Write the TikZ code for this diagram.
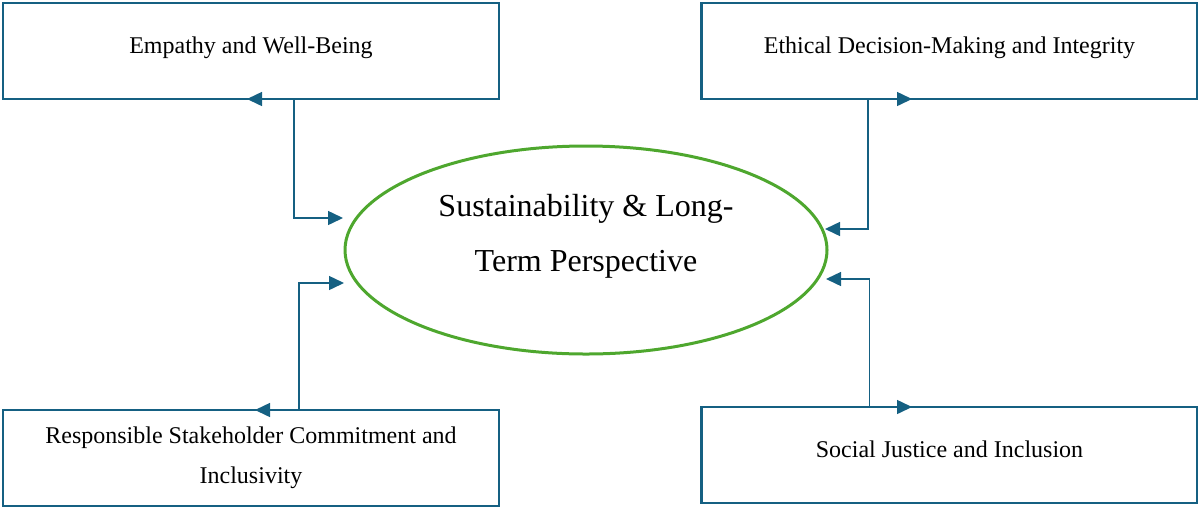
\documentclass[tikz,border=0pt]{standalone}
\usepackage{fontspec}
\setmainfont{Liberation Serif}
\usetikzlibrary{shapes,arrows.meta,calc}
\definecolor{boxblue}{HTML}{156082}
\definecolor{leafgreen}{HTML}{4EA72E}

\begin{document}
\begin{tikzpicture}[x=1pt,y=-1pt,
  box/.style={draw=boxblue,line width=2.5pt,rectangle,minimum width=496pt,minimum height=96pt,inner sep=0pt,outer sep=0pt,align=center,font=\fontsize{24}{40}\selectfont},
  oneline/.style={text height=9pt,text depth=5pt},
  hub/.style={draw=leafgreen,line width=3pt,ellipse,minimum width=482pt,minimum height=208pt,inner sep=0pt,outer sep=0pt,align=center,font=\fontsize{32}{55}\selectfont,text depth=33.5pt},
  link/.style={draw=boxblue,line width=1.5pt,{Triangle[length=15pt,width=14pt]}-{Triangle[length=15pt,width=14pt]}}]
  \useasboundingbox (0,0) rectangle (1198,507);
  \node[box,oneline] (empathy) at (251,51) {Empathy and Well-Being};
  \node[box,oneline] (ethics) at (949.5,51) {Ethical Decision-Making and Integrity};
  \node[hub] (sustain) at (586,250) {Sustainability \& Long-\\Term Perspective};
  \node[box] (stake) at (251,458) {Responsible Stakeholder Commitment and\\Inclusivity};
  \node[box,oneline] (justice) at (949.5,455) {Social Justice and Inclusion};
  \draw[link] ($(empathy.south)+(-4,0)$) -- ($(empathy.south)+(43,0)$) |- ($(sustain.west)+(-2,-32)$);
  \draw[link] ($(ethics.south)+(-37.5,0)$) -- ($(ethics.south)+(-81.5,0)$) |- ($(sustain.east)+(-2,-21)$);
  \draw[link] ($(stake.north)+(4,0)$) -- ($(stake.north)+(48,0)$) |- ($(sustain.west)+(-1,33)$);
  \draw[link] ($(justice.north)+(-37.5,0)$) -- ($(justice.north)+(-80,0)$) |- ($(sustain.east)+(-1,29)$);
\end{tikzpicture}
\end{document}
